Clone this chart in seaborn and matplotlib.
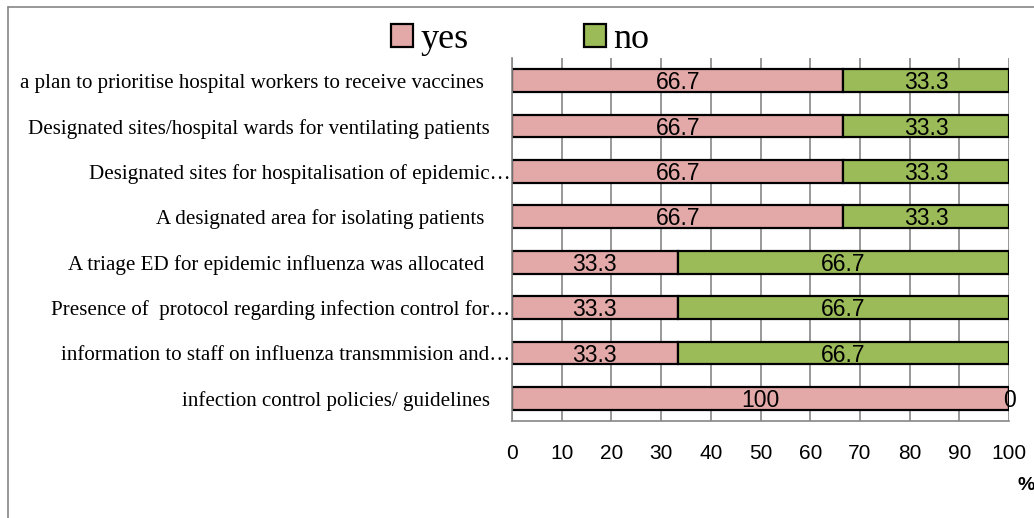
import seaborn as sns
import matplotlib.pyplot as plt
from matplotlib.lines import Line2D

sns.set_theme(style="white")

# data (percent)
labels = [
    "a plan to prioritise hospital workers to receive vaccines     ",
    "Designated sites/hospital wards for ventilating patients    ",
    "Designated sites for hospitalisation of epidemic…",
    "A designated area for isolating patients     ",
    "A triage ED for epidemic influenza was allocated     ",
    "Presence of  protocol regarding infection control for…",
    "information to staff on influenza transmmision and…",
    "infection control policies/ guidelines    ",
]
yes = [66.7, 66.7, 66.7, 66.7, 33.3, 33.3, 33.3, 100]
no = [33.3, 33.3, 33.3, 33.3, 66.7, 66.7, 66.7, 0]

pink = "#E3A9A8"
green = "#9BBB59"
grey = "#868686"

fig = plt.figure(figsize=(10.34, 5.18), dpi=100)
ax = fig.add_axes([512 / 1034, 1 - 421 / 518, 497 / 1034, 363 / 518])

sns.barplot(x=yes, y=labels, orient="h", color=pink, saturation=1,
            edgecolor="black", linewidth=1.6, width=0.5, ax=ax, label="yes")
ax.barh(range(len(labels)), no, left=yes, height=0.5, color=green,
        edgecolor="black", linewidth=1.6, label="no")
if ax.get_legend() is not None:
    ax.get_legend().remove()

for cont in ax.containers:
    vals = [r.get_width() for r in cont]
    texts = ax.bar_label(cont, labels=[f"{v:g}" for v in vals], label_type="center",
                         fontsize=16.5, family="Liberation Sans", color="black")
    for t in texts:
        t.xyann = (0, -1.5)

ax.set_xlim(0, 100)
ax.set_ylim(len(labels) - 0.5, -0.5)
ax.set_xticks(range(0, 101, 10))
ax.set_yticks(range(len(labels)))
ax.set_yticks([i - 0.5 for i in range(len(labels) + 1)], minor=True)
ax.set_yticklabels(labels, family="Liberation Serif", fontsize=15.1, color="black")
ax.tick_params(axis="y", which="major", length=0, pad=1)
ax.tick_params(axis="y", which="minor", length=5, width=1.2, color=grey, direction="out")
ax.tick_params(axis="x", length=5, width=1.2, color=grey, direction="out", pad=11.5,
               labelsize=15, labelcolor="black")
for t in ax.get_xticklabels():
    t.set_family("Liberation Sans")
ax.xaxis.grid(True, color=grey, linewidth=1.2)
ax.set_axisbelow(True)
ax.set_xlabel("")
ax.set_ylabel("")

for side in ["top", "right"]:
    ax.spines[side].set_visible(False)
for side in ["left", "bottom"]:
    ax.spines[side].set_color(grey)
    ax.spines[side].set_linewidth(1.2)

handles, names = ax.get_legend_handles_labels()
fig.legend(handles, names, loc="center", bbox_to_anchor=(520 / 1034, 1 - 40 / 518),
           ncol=2, frameon=False, prop={"family": "Liberation Serif", "size": 26},
           handlelength=0.6, handleheight=0.6, handletextpad=0.2, columnspacing=3.2,
           labelcolor="black")

fig.text(1017 / 1034, 1 - 486 / 518, "%", fontsize=14, fontweight="bold",
         family="Liberation Sans", va="center", ha="left", color="black")

# chart area border
fig.add_artist(Line2D([8 / 1034, 8 / 1034], [0, 1 - 7 / 518], color=grey, lw=1.2))
fig.add_artist(Line2D([8 / 1034, 1], [1 - 7 / 518, 1 - 7 / 518], color=grey, lw=1.2))

fig.savefig("out.png", dpi=100)
